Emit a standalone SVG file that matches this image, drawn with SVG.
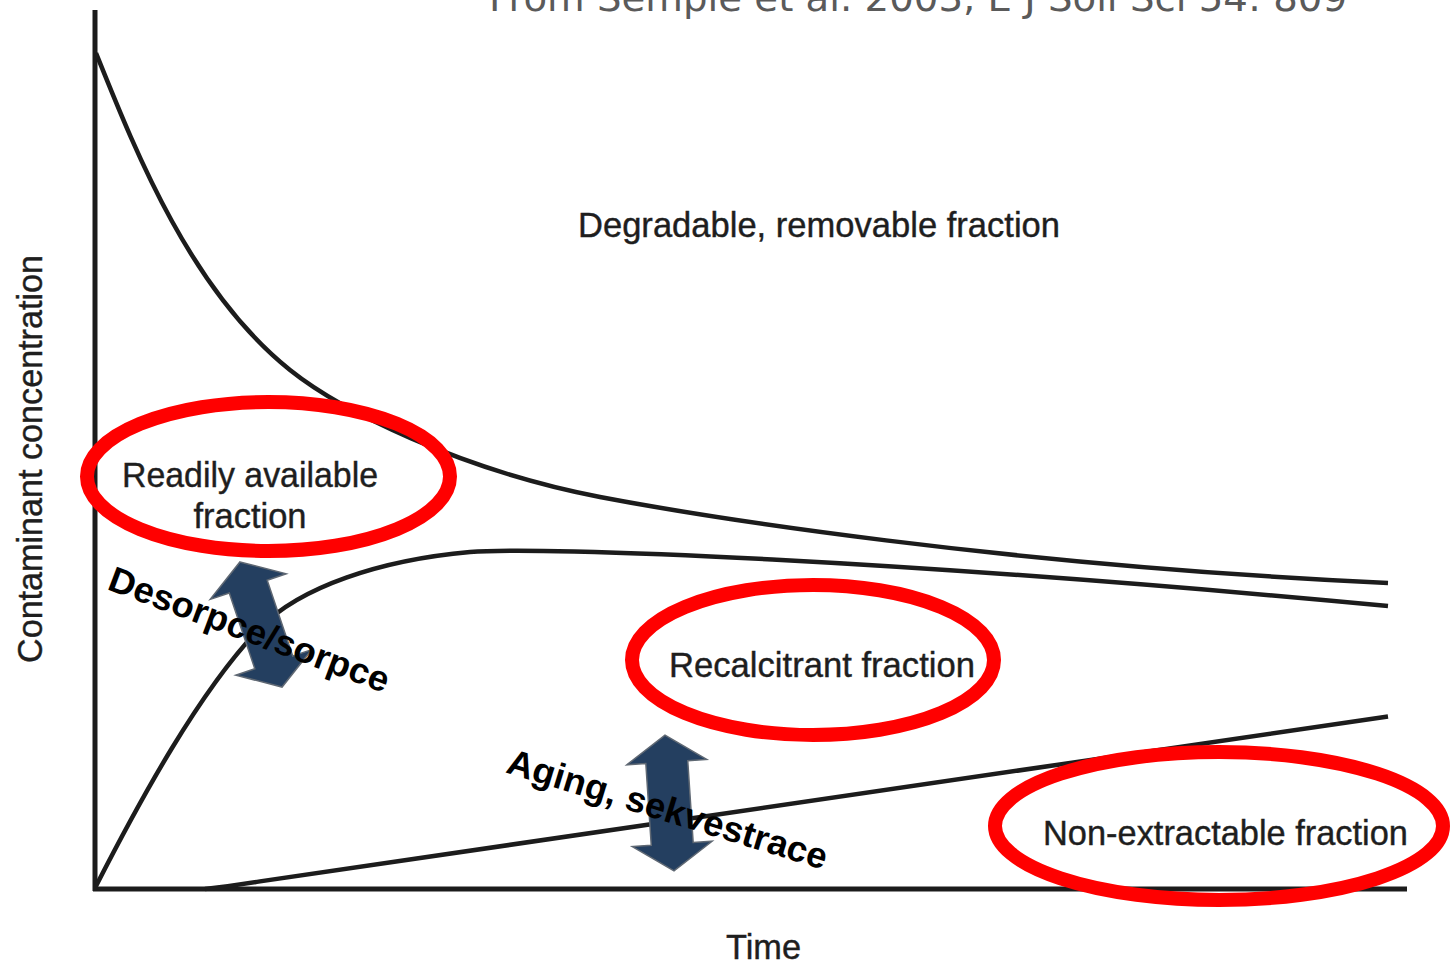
<svg xmlns="http://www.w3.org/2000/svg" width="1455" height="966" viewBox="0 0 1455 966">
<defs>
<style>
.ax{fill:none;stroke:#1c1c1c;stroke-width:5;stroke-linecap:butt}
.cv{fill:none;stroke:#1c1c1c;stroke-width:4.5;stroke-linecap:butt;stroke-linejoin:round}
.lbl{font-family:"Liberation Sans",Arial,sans-serif;font-size:34.5px;fill:#1e1e1e;stroke:#1e1e1e;stroke-width:0.4;text-anchor:middle}
.bold{font-family:"Liberation Sans",Arial,sans-serif;font-size:36px;font-weight:bold;fill:#000;text-anchor:middle}
.ring{fill:none;stroke:#ff0000;stroke-width:14}
.dbl{fill:#243f60;stroke:#5f6873;stroke-width:1.5;stroke-linejoin:miter}
.cite{font-family:"DejaVu Sans",Verdana,sans-serif;font-size:38px;fill:#5a5a5a}
</style>
</defs>
<rect width="1455" height="966" fill="#ffffff"/>
<text class="cite" x="489" y="11" textLength="858" lengthAdjust="spacingAndGlyphs">From Semple et al. 2003, E J Soil Sci 54: 809</text>
<g id="connectors">
<path id="y-axis" class="ax" d="M95,10 V891"/>
<path id="x-axis" class="ax" d="M93,889 H1407"/>
<path id="degradable-curve" class="cv" d="M96,53 C135,150 190,290 290,370 C340,410 460,470 600,497 C700,516 1000,565 1388,583"/>
<path id="available-curve" class="cv" d="M95,888 C140,800 200,690 260,628 C300,587 380,560 470,552 C540,546 900,560 1388,606"/>
<path id="nonextractable-line" class="cv" d="M205,889 Q232,886 260,881.4 L1388,716.5"/>
</g>
<g id="node-degradable">
<text class="lbl" x="819" y="237" textLength="482" lengthAdjust="spacingAndGlyphs">Degradable, removable fraction</text>
</g>
<g id="node-readily">
<text class="lbl" x="250" y="487" textLength="256" lengthAdjust="spacingAndGlyphs">Readily available</text>
<text class="lbl" x="250" y="528">fraction</text>
<ellipse class="ring" cx="268.5" cy="476.5" rx="181.5" ry="74.5"/>
</g>
<g id="node-recalcitrant">
<text class="lbl" x="822" y="677" textLength="306" lengthAdjust="spacingAndGlyphs">Recalcitrant fraction</text>
<ellipse class="ring" cx="813" cy="660" rx="181" ry="75"/>
</g>
<g id="node-nonextractable">
<text class="lbl" x="1225.5" y="845" textLength="365" lengthAdjust="spacingAndGlyphs">Non-extractable fraction</text>
<ellipse class="ring" cx="1219" cy="826" rx="224" ry="74"/>
</g>
<g id="axis-labels">
<text class="lbl" x="763.5" y="959" textLength="75" lengthAdjust="spacingAndGlyphs">Time</text>
<text class="lbl" transform="translate(42,459) rotate(-90)" x="0" y="0" textLength="408" lengthAdjust="spacingAndGlyphs">Contaminant concentration</text>
</g>
<g id="arrow-desorption">
<path class="dbl" transform="translate(261,624.5) rotate(-18.6)" d="M0,-66 L40,-40 L20,-40 L20,40 L40,40 L0,66 L-40,40 L-20,40 L-20,-40 L-40,-40 Z"/>
<text class="bold" transform="translate(245,641) rotate(20.5)" x="0" y="0" textLength="297" lengthAdjust="spacingAndGlyphs">Desorpce/sorpce</text>
</g>
<g id="arrow-aging">
<path class="dbl" transform="translate(669.5,803) rotate(-3.8)" d="M0,-68 L40,-41 L21,-41 L21,41 L40,41 L0,68 L-40,41 L-21,41 L-21,-41 L-40,-41 Z"/>
<text class="bold" transform="translate(664,821) rotate(17)" x="0" y="0" textLength="333" lengthAdjust="spacingAndGlyphs">Aging, sekvestrace</text>
</g>
</svg>
